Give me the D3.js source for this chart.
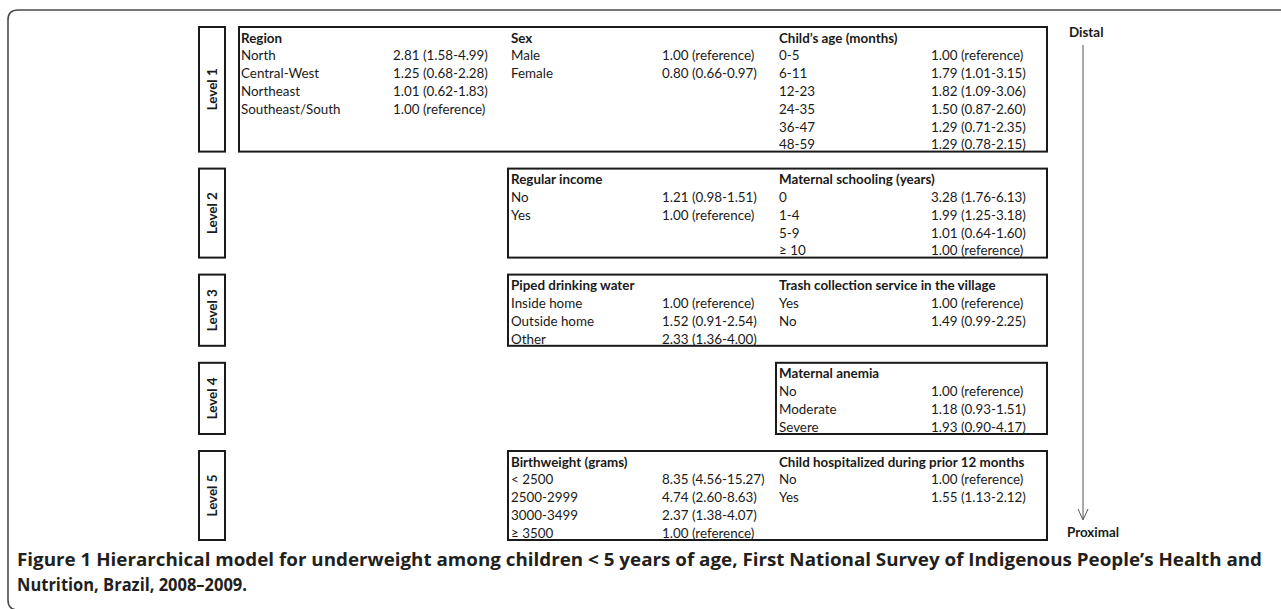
<!DOCTYPE html>
<html><head><meta charset="utf-8">
<script src="https://cdn.jsdelivr.net/npm/d3@7"></script>
<style>
html,body{margin:0;padding:0;background:#fff;}
svg{display:block;}
</style></head>
<body>
<script>
// ---------- data ----------
const levelNames = ["Level 1","Level 2","Level 3","Level 4","Level 5"];
const levelRows = [7,5,4,4,5];

const regionLabels = ["North","Central-West","Northeast","Southeast/South"];
const regionOR = ["2.81 (1.58-4.99)","1.25 (0.68-2.28)","1.01 (0.62-1.83)","1.00 (reference)"];
const sexLabels = ["Male","Female"];
const sexOR = ["1.00 (reference)","0.80 (0.66-0.97)"];
const ageLabels = ["0-5","6-11","12-23","24-35","36-47","48-59"];
const ageOR = ["1.00 (reference)","1.79 (1.01-3.15)","1.82 (1.09-3.06)","1.50 (0.87-2.60)","1.29 (0.71-2.35)","1.29 (0.78-2.15)"];
const incomeLabels = ["No","Yes"];
const incomeOR = ["1.21 (0.98-1.51)","1.00 (reference)"];
const schoolLabels = ["0","1-4","5-9","\u2265 10"];
const schoolOR = ["3.28 (1.76-6.13)","1.99 (1.25-3.18)","1.01 (0.64-1.60)","1.00 (reference)"];
const waterLabels = ["Inside home","Outside home","Other"];
const waterOR = ["1.00 (reference)","1.52 (0.91-2.54)","2.33 (1.36-4.00)"];
const trashLabels = ["Yes","No"];
const trashOR = ["1.00 (reference)","1.49 (0.99-2.25)"];
const anemiaLabels = ["No","Moderate","Severe"];
const anemiaOR = ["1.00 (reference)","1.18 (0.93-1.51)","1.93 (0.90-4.17)"];
const bwLabels = ["< 2500","2500-2999","3000-3499","\u2265 3500"];
const bwOR = ["8.35 (4.56-15.27)","4.74 (2.60-8.63)","2.37 (1.38-4.07)","1.00 (reference)"];
const hospLabels = ["No","Yes"];
const hospOR = ["1.00 (reference)","1.55 (1.13-2.12)"];

const captionBold = "Figure 1";
const captionLine1 = " Hierarchical model for underweight among children < 5 years of age, First National Survey of Indigenous People\u2019s Health and";
const captionLine2 = "Nutrition, Brazil, 2008\u20132009.";
const arrowTop = "Distal", arrowBottom = "Proximal";

const blocks = [
  {level:0,col:0,title:"Region",labels:regionLabels,values:regionOR},
  {level:0,col:1,title:"Sex",labels:sexLabels,values:sexOR},
  {level:0,col:2,title:"Child\u2019s age (months)",labels:ageLabels,values:ageOR},
  {level:1,col:1,title:"Regular income",labels:incomeLabels,values:incomeOR},
  {level:1,col:2,title:"Maternal schooling (years)",labels:schoolLabels,values:schoolOR},
  {level:2,col:1,title:"Piped drinking water",labels:waterLabels,values:waterOR},
  {level:2,col:2,title:"Trash collection service in the village",labels:trashLabels,values:trashOR},
  {level:3,col:2,title:"Maternal anemia",labels:anemiaLabels,values:anemiaOR},
  {level:4,col:1,title:"Birthweight (grams)",labels:bwLabels,values:bwOR},
  {level:4,col:2,title:"Child hospitalized during prior 12 months",labels:hospLabels,values:hospOR}
];
const levelFirstCol = [0,1,1,2,1];

// ---------- layout ----------
const W = 1281, H = 609;
const rowH = 17.8, gap = 17, top0 = 27;
const fs = 13.4;
const svg = d3.select("body").append("svg").attr("width",W).attr("height",H);

// frame
svg.append("path")
  .attr("d", "M1290,10 L18,10 Q8,10 8,20 L8,600 Q8,610 18,610")
  .attr("fill","none").attr("stroke","#4a4a4a").attr("stroke-width",1.6);

const tops = [];
let t = top0;
levelRows.forEach((r,i)=>{ tops.push(t); t += r*rowH + gap; });

const colLabelX = d3.scaleOrdinal().domain([0,1,2]).range([241,511,779]);
const colValueX = d3.scaleOrdinal().domain([0,1,2]).range([393,662,931]);
const boxLeft = d3.scaleOrdinal().domain([0,1,2]).range([239,508,776]);
const boxRight = 1047;
const labL = 199, labR = 225;
const font = "Lato, 'Open Sans', sans-serif";
const ink = "#1a1a1a";

levelNames.forEach((name,i)=>{
  const y0 = tops[i], h = levelRows[i]*rowH;
  const g = svg.append("g");
  g.append("rect").attr("x",labL).attr("y",y0).attr("width",labR-labL).attr("height",h)
    .attr("fill","none").attr("stroke",ink).attr("stroke-width",2);
  g.append("text").attr("transform",`translate(${(labL+labR)/2+4.5},${y0+h/2}) rotate(-90)`)
    .attr("text-anchor","middle").attr("font-family",font).attr("font-weight",700)
    .attr("font-size",fs).attr("fill",ink).text(name);
  const bl = boxLeft(levelFirstCol[i]);
  g.append("rect").attr("x",bl).attr("y",y0).attr("width",boxRight-bl).attr("height",h)
    .attr("fill","none").attr("stroke",ink).attr("stroke-width",2);
});

blocks.forEach(b=>{
  const y0 = tops[b.level];
  const yRow = d3.scaleLinear().domain([0,1]).range([y0 + rowH/2 + 2, y0 + rowH*1.5 + 2]);
  const g = svg.append("g").attr("font-family",font).attr("font-size",fs).attr("fill",ink);
  g.append("text").attr("x",colLabelX(b.col)).attr("y",yRow(0)).attr("dy","0.35em")
    .attr("font-weight",700).text(b.title);
  g.selectAll("text.lab").data(b.labels).join("text").attr("class","lab")
    .attr("x",colLabelX(b.col)).attr("y",(d,i)=>yRow(i+1)).attr("dy","0.35em").text(d=>d);
  g.selectAll("text.val").data(b.values).join("text").attr("class","val")
    .attr("x",colValueX(b.col)).attr("y",(d,i)=>yRow(i+1)).attr("dy","0.35em").text(d=>d);
});

// arrow distal -> proximal
const ax = 1083;
svg.append("text").attr("x",1069).attr("y",32).attr("dy","0.35em")
  .attr("font-family",font).attr("font-weight",700).attr("font-size",fs).attr("fill",ink).text(arrowTop);
svg.append("line").attr("x1",ax).attr("x2",ax).attr("y1",45).attr("y2",519)
  .attr("stroke","#555").attr("stroke-width",1);
svg.append("path").attr("d",`M${ax-5},509 L${ax},520 L${ax+5},509`)
  .attr("fill","none").attr("stroke","#555").attr("stroke-width",1);
svg.append("text").attr("x",1067).attr("y",532).attr("dy","0.35em")
  .attr("font-family",font).attr("font-weight",700).attr("font-size",fs).attr("fill",ink).text(arrowBottom);

// caption
const cap = svg.append("g").attr("font-family","'Open Sans', sans-serif").attr("font-size",17)
  .attr("font-weight",700).attr("fill","#231f20");
const l1 = cap.append("text").attr("x",17).attr("y",566).attr("textLength",1245).attr("lengthAdjust","spacingAndGlyphs");
l1.append("tspan").text(captionBold);
l1.append("tspan").text(captionLine1);
cap.append("text").attr("x",17).attr("y",591)
  .attr("textLength",230).attr("lengthAdjust","spacingAndGlyphs").text(captionLine2);
</script>
</body></html>
